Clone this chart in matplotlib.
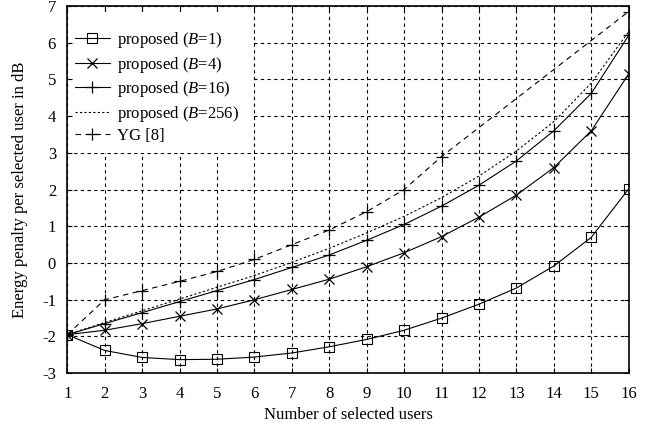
import matplotlib
matplotlib.use('Agg')
import matplotlib.pyplot as plt
from matplotlib.patches import Rectangle

plt.rcParams['font.family'] = ['Liberation Serif', 'DejaVu Serif']
plt.rcParams['mathtext.fontset'] = 'custom'
plt.rcParams['mathtext.it'] = 'Liberation Serif:italic'
plt.rcParams['mathtext.rm'] = 'Liberation Serif'
plt.rcParams['axes.unicode_minus'] = False

users = list(range(1, 17))
b1 = [-1.95, -2.38, -2.57, -2.63, -2.62, -2.56, -2.45, -2.28, -2.08, -1.83, -1.5, -1.12, -0.68, -0.08, 0.7, 2.02]
b4 = [-1.95, -1.83, -1.65, -1.45, -1.25, -1.0, -0.72, -0.44, -0.1, 0.28, 0.72, 1.25, 1.85, 2.6, 3.6, 5.15]
b16 = [-1.95, -1.65, -1.35, -1.05, -0.75, -0.45, -0.12, 0.22, 0.62, 1.05, 1.55, 2.12, 2.78, 3.6, 4.62, 6.2]
b256 = [-1.95, -1.62, -1.3, -0.98, -0.66, -0.34, 0.02, 0.4, 0.82, 1.27, 1.78, 2.37, 3.05, 3.85, 4.9, 6.3]
yg_users = [1, 2, 3, 4, 5, 6, 7, 8, 9, 10, 11, 16]
yg = [-1.95, -1.0, -0.75, -0.5, -0.23, 0.1, 0.5, 0.9, 1.4, 2.0, 2.9, 6.85]

fig = plt.figure(figsize=(6.59, 4.28), dpi=100)
ax = fig.add_axes([0.102, 0.128, 0.852, 0.858])

ax.plot(users, b1, 'k-', lw=0.8, marker='s', ms=7, mfc='none', mew=0.8, label='proposed ($B$=1)')
ax.plot(users, b4, 'k-', lw=0.8, marker='x', ms=7.5, mew=0.9, label='proposed ($B$=4)')
ax.plot(users, b16, 'k-', lw=0.8, marker='+', ms=8.5, mew=0.9, label='proposed ($B$=16)')
ax.plot(users, b256, 'k', ls=(0, (2, 2)), lw=0.8, label='proposed ($B$=256)')
ax.plot(yg_users, yg, 'k', ls=(0, (5, 4)), lw=0.8, marker='+', ms=8.5, mew=0.9, label='YG [8]')

ax.set_xlim(1, 16)
ax.set_ylim(-3, 7)
ax.set_xticks(users)
ax.set_yticks(range(-3, 8))
ax.grid(True, color='k', ls=(0, (3, 3)), lw=0.8)
ax.tick_params(direction='in', top=True, right=True, labelsize=12)
ax.tick_params(axis='x', pad=9)
ax.tick_params(axis='y', pad=8)
for s in ax.spines.values():
    s.set_linewidth(1.2)

ax.set_xlabel('Number of selected users', fontsize=12, labelpad=4)
ax.set_ylabel('Energy penalty per selected user in dB', fontsize=12, labelpad=10)

# white area behind the legend hides the grid there
ax.add_patch(Rectangle((0.011, 0.6), 0.32, 0.383, transform=ax.transAxes,
                       facecolor='white', edgecolor='none', zorder=1.8))

leg = ax.legend(loc='upper left', bbox_to_anchor=(0, 0.955), frameon=False,
                fontsize=12, handlelength=2.1, handletextpad=0.45,
                labelspacing=0.27, borderaxespad=0, borderpad=0.45)

fig.savefig('out.png', dpi=100)
